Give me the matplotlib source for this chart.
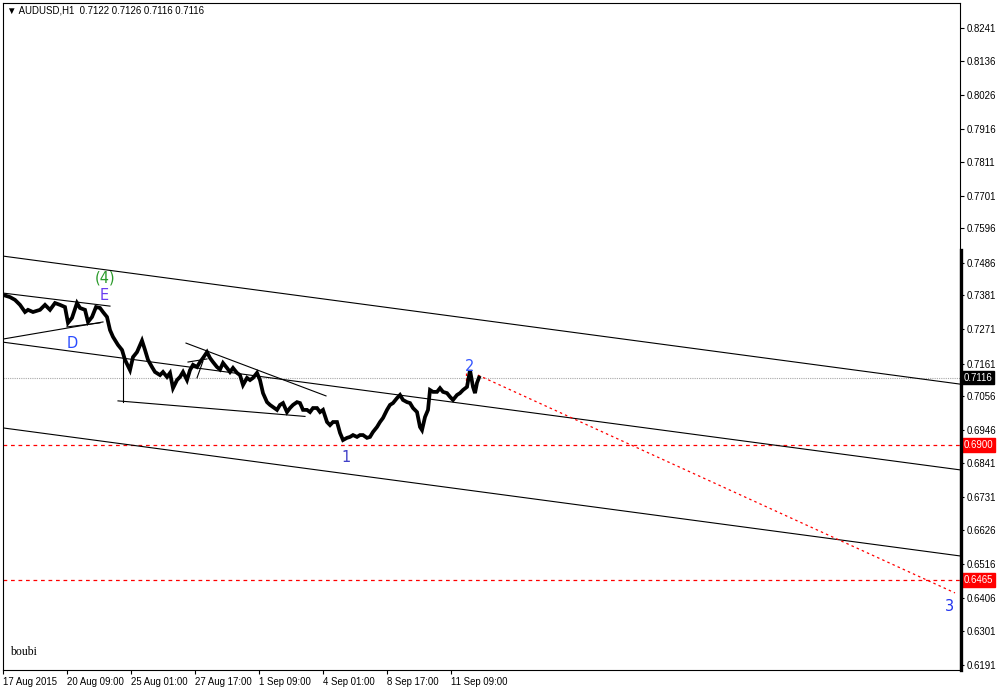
import matplotlib
matplotlib.use("Agg")
import matplotlib.pyplot as plt
from matplotlib.lines import Line2D

# ---------------- data ----------------
symbol_title = "AUDUSD,H1  0.7122 0.7126 0.7116 0.7116"

# hourly bar index (0 = 17 Aug 2015 00:00) and read-off prices
bar_idx = [0, 7, 12, 17, 22, 25, 30, 37, 42, 47, 52, 57, 62, 65, 69, 74, 77, 82, 85, 89,
           93, 97, 100, 104, 107, 110, 115, 119, 122, 127, 130, 134, 139, 142, 145, 149,
           152, 157, 160, 164, 167, 170, 174, 177, 180, 184, 187, 190, 194, 197, 200, 204,
           207, 210, 214, 217, 220, 224, 227, 230, 234, 237, 240, 244, 247, 250, 254, 257,
           260, 264, 267, 270, 274, 277, 280, 284, 287, 290, 294, 297, 300, 304, 307, 310,
           314, 317, 320, 324, 327, 330, 334, 337, 340, 344, 347, 350, 354, 357, 360, 364,
           367, 370, 374, 377, 380, 384, 387, 390, 394, 397, 400, 404, 407, 410, 414, 417,
           419, 422, 425, 427, 430, 434, 437, 440, 444, 447, 450, 454, 457, 460, 464, 467,
           470, 472, 474, 476]
close = [0.7382, 0.7375, 0.7366, 0.7350, 0.7327, 0.7334, 0.7327, 0.7334, 0.7350, 0.7334,
         0.7356, 0.7350, 0.7343, 0.7292, 0.7308, 0.7356, 0.7340, 0.7334, 0.7295, 0.7311,
         0.7343, 0.7340, 0.7327, 0.7311, 0.7269, 0.7247, 0.7221, 0.7205, 0.7173, 0.7140,
         0.7182, 0.7198, 0.7235, 0.7205, 0.7173, 0.7150, 0.7134, 0.7124, 0.7134, 0.7118,
         0.7131, 0.7082, 0.7108, 0.7118, 0.7134, 0.7108, 0.7140, 0.7157, 0.7150, 0.7166,
         0.7179, 0.7198, 0.7179, 0.7166, 0.7150, 0.7142, 0.7163, 0.7147, 0.7134, 0.7147,
         0.7131, 0.7124, 0.7092, 0.7115, 0.7108, 0.7115, 0.7131, 0.7108, 0.7066, 0.7037,
         0.7028, 0.7021, 0.7012, 0.7028, 0.7034, 0.7005, 0.7018, 0.7028, 0.7037, 0.7034,
         0.7012, 0.7012, 0.7005, 0.7018, 0.7018, 0.7005, 0.7012, 0.6973, 0.6963, 0.6973,
         0.6973, 0.6938, 0.6915, 0.6922, 0.6925, 0.6931, 0.6925, 0.6931, 0.6931, 0.6922,
         0.6925, 0.6941, 0.6957, 0.6973, 0.6986, 0.7012, 0.7028, 0.7034, 0.7050, 0.7060,
         0.7044, 0.7037, 0.7034, 0.7018, 0.7005, 0.6957, 0.6947, 0.6989, 0.7012, 0.7076,
         0.7070, 0.7070, 0.7082, 0.7070, 0.7066, 0.7054, 0.7044, 0.7060, 0.7066, 0.7076,
         0.7086, 0.7140, 0.7086, 0.7066, 0.7099, 0.7116]

# trend lines: (bar0, price0, bar1, price1)
channel_upper = (0, 0.7507, 957, 0.7095)
channel_mid = (0, 0.7230, 957, 0.6819)
channel_lower = (0, 0.6954, 957, 0.6542)
tri_upper = (0, 0.7388, 107, 0.7346)
tri_lower = (0, 0.7240, 100, 0.7295)
tri_lower2 = (64, 0.7279, 97, 0.7292)
box_vertical = (120, 0.7205, 120, 0.7037)
box_bottom = (115, 0.7041, 302, 0.6991)
desc_line = (183, 0.7227, 323, 0.7057)
small_a = (185, 0.7166, 204, 0.7176)
small_b = (194, 0.7115, 200, 0.7169)
projection = (475, 0.7124, 952, 0.6423)
red_tick = (463, 0.7131, 463, 0.7086)

level_current = 0.7116
level_red = [0.6900, 0.6465]

y_ticks = [0.8241, 0.8136, 0.8026, 0.7916, 0.7811, 0.7701, 0.7596, 0.7486, 0.7381,
           0.7271, 0.7161, 0.7056, 0.6946, 0.6841, 0.6731, 0.6626, 0.6516, 0.6406,
           0.6301, 0.6191]
x_tick_bars = [0, 64, 128, 192, 256, 320, 384, 448]
x_tick_labels = ["17 Aug 2015", "20 Aug 09:00", "25 Aug 01:00", "27 Aug 17:00",
                 "1 Sep 09:00", "4 Sep 01:00", "8 Sep 17:00", "11 Sep 09:00"]

wave_labels = [("(4)", 102, 0.7436, "#2a9a2a"),
               ("E", 101, 0.7379, "#6a3cf0"),
               ("D", 69, 0.7227, "#2a4cff"),
               ("1", 343, 0.6860, "#4040c8"),
               ("2", 467, 0.7153, "#3355ff"),
               ("3", 947, 0.6378, "#2233ee")]

# ---------------- figure ----------------
W, H = 1001, 688
fig = plt.figure(figsize=(W / 100, H / 100), dpi=100)
fig.patch.set_facecolor("white")
ax = fig.add_axes([3 / W, (H - 670) / H, 957 / W, 667 / H])
ax.set_xlim(0, 957)
ax.set_ylim(0.61749, 0.83215)

FONT = "Liberation Sans"
FS = 6.9

for s in ax.spines.values():
    s.set_linewidth(0.8)
    s.set_color("black")

# horizontal levels
ax.axhline(level_current, color="#a8a8a8", lw=0.8, ls=(0, (1, 1)), zorder=1)
for lv in level_red:
    ax.axhline(lv, color="red", lw=0.9, ls=(0, (3, 3)), zorder=1)

def seg(t, **kw):
    ax.plot([t[0], t[2]], [t[1], t[3]], **kw)

for t in [channel_upper, channel_mid, channel_lower, tri_upper, tri_lower, tri_lower2,
          box_vertical, box_bottom, desc_line, small_a, small_b]:
    seg(t, color="black", lw=0.8, zorder=2)
seg(projection, color="red", lw=0.9, ls=(0, (2, 2.5)), zorder=2)
seg(red_tick, color="red", lw=0.9, ls=(0, (2, 2)), zorder=2)

# price
ax.plot(bar_idx, close, color="black", lw=2.7, solid_joinstyle="miter", zorder=3)

# wave labels
for txt, bx, py, col in wave_labels:
    ax.text(bx, py, txt, color=col, fontsize=10.5, family="DejaVu Sans",
            ha="center", va="center", zorder=4)

# axes ticks
ax.yaxis.tick_right()
ax.set_yticks(y_ticks)
ax.set_yticklabels([f"{v:.4f}" for v in y_ticks], fontsize=FS, family=FONT)
ax.tick_params(axis="y", direction="out", length=3, width=0.8, pad=2, colors="black")
ax.set_xticks(x_tick_bars)
ax.set_xticklabels(x_tick_labels, fontsize=FS, family=FONT, ha="left")
ax.tick_params(axis="x", direction="out", length=3, width=0.8, pad=2, colors="black")

# price tags on right axis
tags = [(level_current, "black"), (level_red[0], "red"), (level_red[1], "red")]
for lv, bg in tags:
    ax.annotate(f"{lv:.4f}", xy=(1.0, lv), xycoords=("axes fraction", "data"),
                xytext=(2.5, 0), textcoords="offset points", fontsize=FS, family=FONT,
                color="white", ha="left", va="center", zorder=6,
                bbox=dict(boxstyle="square,pad=0.2", fc=bg, ec=bg))

# thick right border segment
fig.add_artist(Line2D([961.2 / W, 961.2 / W], [1 - 250 / H, 1 - 670 / H],
                      transform=fig.transFigure, color="black", lw=2.4))

# title & signature
ax.text(4 / 957, 0.9895, "\u25bc " + symbol_title, transform=ax.transAxes,
        fontsize=FS, family=FONT, ha="left", va="center", color="black")
ax.text(7 / 957, 0.018, "boubi", transform=ax.transAxes, fontsize=8.5,
        family="Liberation Serif", ha="left", va="bottom", color="black")

fig.savefig("out.png", dpi=100)
